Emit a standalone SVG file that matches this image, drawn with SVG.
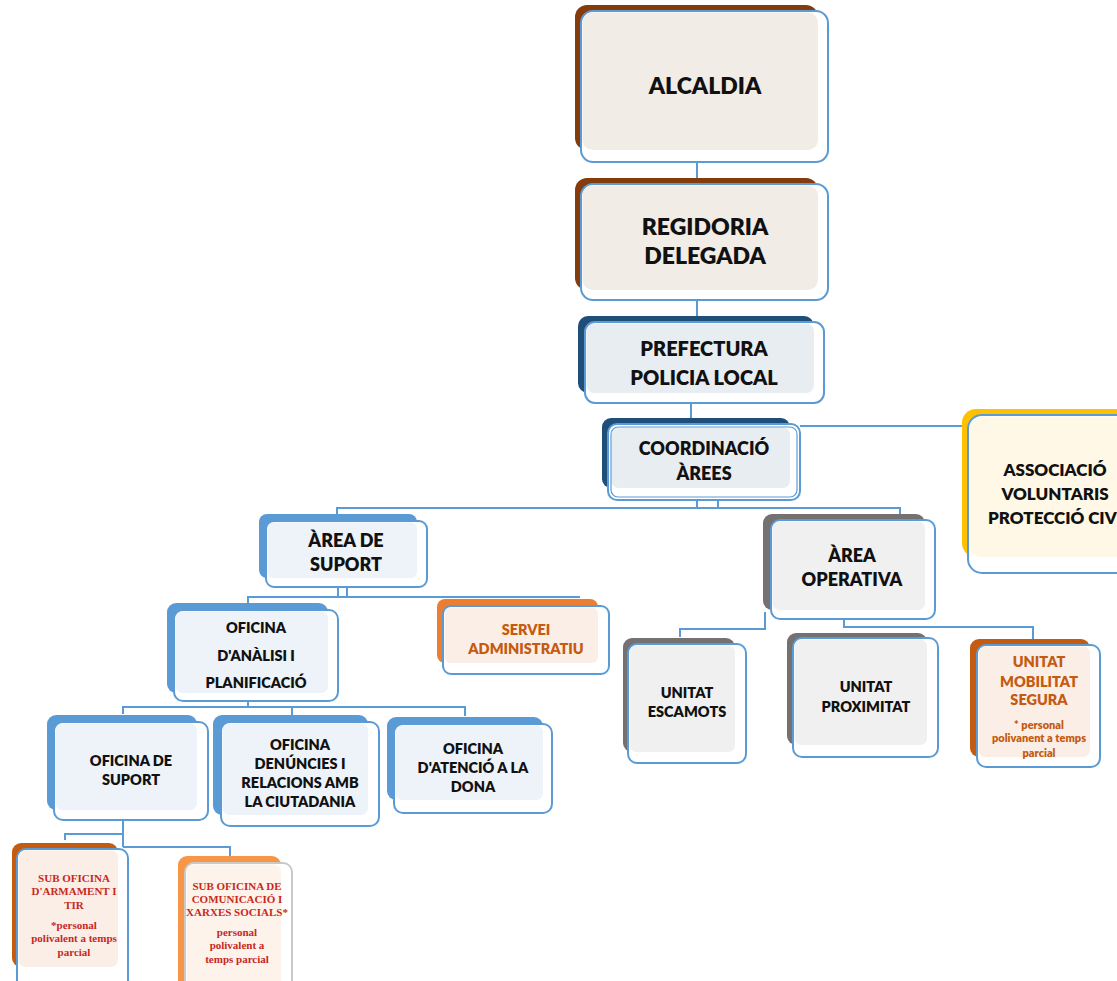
<svg xmlns="http://www.w3.org/2000/svg" width="1117" height="981" viewBox="0 0 1117 981">
<style>
.out{fill:#ffffff;stroke:#5B9BD5;stroke-width:2}
.gout{fill:#ffffff;stroke:#C9C9C9;stroke-width:2}
.t{font-family:Lato,"Liberation Sans",sans-serif;font-weight:800;fill:#111111;text-anchor:middle}
.t22{font-size:23px}.t20{font-size:20px}.t18{font-size:18px}.t17{font-size:17px}.t15{font-size:14.5px}.t11{font-size:11px}
.or{fill:#C55A11}
.rd{font-family:"Liberation Serif",serif;font-weight:bold;font-size:11px;fill:#C8281E;text-anchor:middle}
.con{fill:none;stroke:#5B9BD5;stroke-width:2}
</style>
<rect width="1117" height="981" fill="#ffffff"/>
<g id="connectors">
<path class="con" d="M697 155V178"/>
<path class="con" d="M697 295V318"/>
<path class="con" d="M691 400V420"/>
<path class="con" d="M800 426H963"/>
<path class="con" d="M697 500V508M718 500V508M337 514V508H900V514"/>
<path class="con" d="M338 587V597M347 587V597M248 603V597H580"/>
<path class="con" d="M248 700V707M123 714V707H465V716M292 707V716"/>
<path class="con" d="M765 612V629H680V637"/>
<path class="con" d="M844 618V627H1033V639"/>
<path class="con" d="M123 820V847M65 840V834H123M123 847H230V858"/>
</g>
<g id="alcaldia">
<rect x="575" y="5" width="243" height="145" rx="12" fill="#843C0C"/>
<rect class="out" x="581" y="11" width="247" height="151" rx="12"/>
<rect x="582.5" y="12.5" width="235.5" height="137.5" rx="10" fill="#F2ECE7"/>
<text class="t t22" x="705" y="94">ALCALDIA</text>
</g>
<g id="regidoria">
<rect x="575" y="178" width="243" height="112" rx="12" fill="#843C0C"/>
<rect class="out" x="581" y="184" width="247" height="116" rx="12"/>
<rect x="582.5" y="185.5" width="235.5" height="104.5" rx="10" fill="#F2ECE7"/>
<text class="t t22" x="705" y="235">REGIDORIA</text>
<text class="t t22" x="705" y="264">DELEGADA</text>
</g>
<g id="prefectura">
<rect x="578" y="316" width="236" height="77" rx="10" fill="#1F4E79"/>
<rect class="out" x="585" y="322" width="239" height="81" rx="10"/>
<rect x="586.5" y="323.5" width="227.5" height="69.5" rx="8" fill="#E8EDF2"/>
<text class="t t20" x="704" y="356">PREFECTURA</text>
<text class="t t20" x="704" y="385">POLICIA LOCAL</text>
</g>
<g id="coordinacio">
<rect x="602" y="418" width="188" height="70" rx="9" fill="#1F4E79"/>
<rect class="out" x="608" y="424" width="192" height="76" rx="9" stroke-width="1.5"/>
<rect x="611.5" y="427.5" width="178.5" height="60.5" rx="7" fill="#E8EDF2"/>
<rect x="611" y="427" width="186" height="70" rx="7" fill="none" stroke="#5B9BD5" stroke-width="1.2"/>
<text class="t t18" x="704" y="455">COORDINACIÓ</text>
<text class="t t18" x="704" y="480">ÀREES</text>
</g>
<g id="associacio">
<rect x="962" y="409" width="170" height="148" rx="14" fill="#FFC000"/>
<rect class="out" x="968" y="415" width="170" height="158" rx="14"/>
<rect x="969.5" y="416.5" width="160" height="140.5" rx="12" fill="#FFF8E6"/>
<text class="t t17" x="1055" y="476">ASSOCIACIÓ</text>
<text class="t t17" x="1055" y="500">VOLUNTARIS</text>
<text class="t t17" x="988" y="524" style="text-anchor:start">PROTECCIÓ CIV</text>
</g>
<g id="area_suport">
<rect x="259" y="514" width="158" height="64" rx="8" fill="#5B9BD5"/>
<rect class="out" x="266" y="521" width="161" height="66" rx="8"/>
<rect x="267.5" y="522.5" width="149.5" height="55.5" rx="6" fill="#EEF3FA"/>
<text class="t t18" x="346" y="547">ÀREA DE</text>
<text class="t t18" x="346" y="571">SUPORT</text>
</g>
<g id="area_operativa">
<rect x="763" y="514" width="162" height="96" rx="9" fill="#767171"/>
<rect class="out" x="771" y="520" width="164" height="99" rx="9"/>
<rect x="772.5" y="521.5" width="152.5" height="88.5" rx="7" fill="#F0F0F0"/>
<text class="t t18" x="852" y="562">ÀREA</text>
<text class="t t18" x="852" y="586">OPERATIVA</text>
</g>
<g id="oficina_analisi">
<rect x="167" y="603" width="161" height="90" rx="9" fill="#5B9BD5"/>
<rect class="out" x="174" y="610" width="164" height="91" rx="9"/>
<rect x="175.5" y="611.5" width="152.5" height="81.5" rx="7" fill="#EEF3FA"/>
<text class="t t15" x="256" y="633">OFICINA</text>
<text class="t t15" x="256" y="661">D'ANÀLISI I</text>
<text class="t t15" x="256" y="688">PLANIFICACIÓ</text>
</g>
<g id="servei_administratiu">
<rect x="437" y="599" width="161" height="64" rx="8" fill="#ED7D31"/>
<rect class="out" x="443" y="606" width="166" height="68" rx="8"/>
<rect x="444.5" y="607.5" width="153.5" height="55.5" rx="6" fill="#FBEEE6"/>
<text class="t t15 or" x="526" y="635">SERVEI</text>
<text class="t t15 or" x="526" y="654">ADMINISTRATIU</text>
</g>
<g id="oficina_suport">
<rect x="47" y="715" width="150" height="95" rx="9" fill="#5B9BD5"/>
<rect class="out" x="54" y="722" width="154" height="98" rx="9"/>
<rect x="55.5" y="723.5" width="141.5" height="86.5" rx="7" fill="#EEF3FA"/>
<text class="t t15" x="131" y="766">OFICINA DE</text>
<text class="t t15" x="131" y="785">SUPORT</text>
</g>
<g id="oficina_denuncies">
<rect x="213" y="715" width="155" height="100" rx="9" fill="#5B9BD5"/>
<rect class="out" x="221" y="722" width="158" height="104" rx="9"/>
<rect x="222.5" y="723.5" width="145.5" height="91.5" rx="7" fill="#EEF3FA"/>
<text class="t t15" x="300" y="750">OFICINA</text>
<text class="t t15" x="300" y="769">DENÚNCIES I</text>
<text class="t t15" x="300" y="788">RELACIONS AMB</text>
<text class="t t15" x="300" y="807">LA CIUTADANIA</text>
</g>
<g id="oficina_dona">
<rect x="387" y="717" width="156" height="83" rx="9" fill="#5B9BD5"/>
<rect class="out" x="394" y="724" width="158" height="89" rx="9"/>
<rect x="395.5" y="725.5" width="147.5" height="74.5" rx="7" fill="#EEF3FA"/>
<text class="t t15" x="473" y="754">OFICINA</text>
<text class="t t15" x="473" y="773">D'ATENCIÓ A LA</text>
<text class="t t15" x="473" y="792">DONA</text>
</g>
<g id="unitat_escamots">
<rect x="623" y="638" width="112" height="114" rx="9" fill="#767171"/>
<rect class="out" x="628" y="644" width="118" height="119" rx="9"/>
<rect x="629.5" y="645.5" width="105.5" height="106.5" rx="7" fill="#F0F0F0"/>
<text class="t t15" x="687" y="698">UNITAT</text>
<text class="t t15" x="687" y="717">ESCAMOTS</text>
</g>
<g id="unitat_proximitat">
<rect x="787" y="633" width="140" height="112" rx="9" fill="#767171"/>
<rect class="out" x="793" y="638" width="145" height="119" rx="9"/>
<rect x="794.5" y="639.5" width="132.5" height="105.5" rx="7" fill="#F0F0F0"/>
<text class="t t15" x="866" y="692">UNITAT</text>
<text class="t t15" x="866" y="712">PROXIMITAT</text>
</g>
<g id="unitat_mobilitat">
<rect x="970" y="639" width="120" height="118" rx="9" fill="#C55A11"/>
<rect class="out" x="977" y="645" width="123" height="122" rx="9"/>
<rect x="978.5" y="646.5" width="111.5" height="110.5" rx="7" fill="#FBEEE6"/>
<text class="t t15 or" x="1039" y="667">UNITAT</text>
<text class="t t15 or" x="1039" y="687">MOBILITAT</text>
<text class="t t15 or" x="1039" y="705">SEGURA</text>
<text class="t t11 or" x="1039" y="729">* personal</text>
<text class="t t11 or" x="1039" y="742">polivanent a temps</text>
<text class="t t11 or" x="1039" y="757">parcial</text>
</g>
<g id="sub_armament">
<rect x="12" y="843" width="106" height="124" rx="9" fill="#C55A11"/>
<rect class="out" x="17" y="849" width="111" height="142" rx="9"/>
<rect x="18.5" y="850.5" width="99.5" height="116.5" rx="7" fill="#FBEEE6"/>
<text class="rd" x="74" y="882">SUB OFICINA</text>
<text class="rd" x="74" y="895">D'ARMAMENT I</text>
<text class="rd" x="74" y="909">TIR</text>
<text class="rd" x="74" y="929">*personal</text>
<text class="rd" x="74" y="942">polivalent a temps</text>
<text class="rd" x="74" y="956">parcial</text>
</g>
<g id="sub_comunicacio">
<rect x="178" y="856" width="103" height="135" rx="9" fill="#F79646"/>
<rect class="gout" x="185" y="863" width="107" height="128" rx="9"/>
<rect x="186.5" y="864.5" width="94.5" height="126" rx="7" fill="#FDF3EA"/>
<text class="rd" x="237" y="890">SUB OFICINA DE</text>
<text class="rd" x="237" y="903">COMUNICACIÓ I</text>
<text class="rd" x="237" y="916">XARXES SOCIALS*</text>
<text class="rd" x="237" y="936">personal</text>
<text class="rd" x="237" y="949">polivalent a</text>
<text class="rd" x="237" y="963">temps parcial</text>
</g>
</svg>
